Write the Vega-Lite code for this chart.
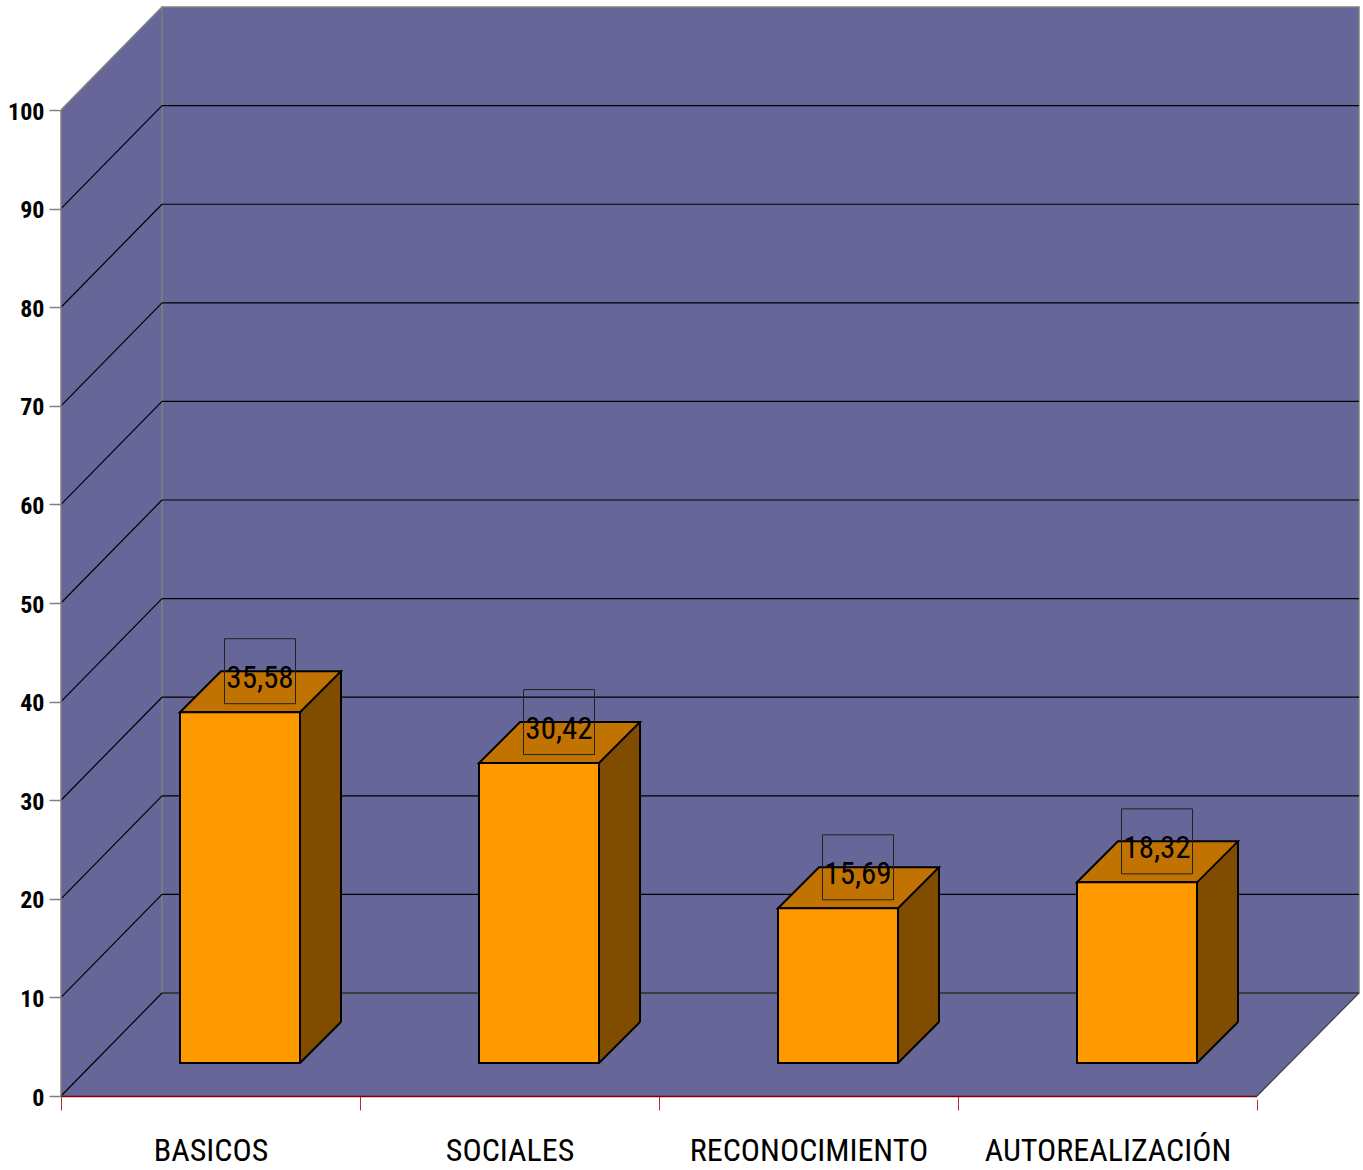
{
  "$schema": "https://vega.github.io/schema/vega-lite/v6.json",
  "width": 1298,
  "height": 1089,
  "autosize": {"type": "none"},
  "padding": {"left": 61, "top": 7, "right": 4, "bottom": 74},
  "background": "#ffffff",
  "config": {"view": {"fill": "#666699", "stroke": null}, "axis": {"zindex": 1, "grid": false}},
  "datasets": {
    "bars": [
      {"cat": "BASICOS", "value": 35.58, "label": "35,58"},
      {"cat": "SOCIALES", "value": 30.42, "label": "30,42"},
      {"cat": "RECONOCIMIENTO", "value": 15.69, "label": "15,69"},
      {"cat": "AUTOREALIZACIÓN", "value": 18.32, "label": "18,32"}
    ],
    "grid": [{"v": 0}, {"v": 10}, {"v": 20}, {"v": 30}, {"v": 40}, {"v": 50}, {"v": 60}, {"v": 70}, {"v": 80}, {"v": 90}],
    "one": [{"k": 1}]
  },
  "data": {"name": "bars"},
  "layer": [
    {
      "mark": {"type": "bar", "width": 120, "xOffset": 29.5, "yOffset": -33, "y2Offset": -33, "fill": "#FF9900", "stroke": "#000000", "strokeWidth": 2, "opacity": 0},
      "encoding": {
        "x": {
          "field": "cat", "type": "nominal", "sort": null, "title": null,
          "scale": {"domain": ["BASICOS", "SOCIALES", "RECONOCIMIENTO", "AUTOREALIZACIÓN"], "range": [0, 1196], "paddingInner": 0, "paddingOuter": 0},
          "axis": {"orient": "bottom", "tickBand": "extent", "domain": true, "domainColor": "#800000", "domainWidth": 1.5, "ticks": true, "tickColor": "#B03030", "tickWidth": 1, "tickSize": 14, "labelAngle": 0, "labelLimit": 0, "labelFont": "Roboto Condensed, Liberation Sans Narrow, DejaVu Sans Condensed, sans-serif", "labelFontSize": 32, "labelColor": "#000000", "labelBaseline": "alphabetic", "labelPadding": 50, "grid": false, "title": null}
        },
        "y": {
          "field": "value", "type": "quantitative", "title": null,
          "scale": {"domain": [0, 110.45], "nice": false, "zero": false},
          "axis": {"values": [0, 10, 20, 30, 40, 50, 60, 70, 80, 90, 100], "domain": false, "grid": false, "ticks": true, "tickColor": "#808080", "tickWidth": 1.5, "tickSize": 12, "labelFont": "Roboto Condensed, Liberation Sans Narrow, DejaVu Sans Condensed, sans-serif", "labelFontSize": 24, "labelFontWeight": "bold", "labelColor": "#000000", "labelPadding": 5, "labelOffset": 2, "title": null}
        },
        "y2": {"datum": 0}
      }
    },
    {
      "data": {"name": "one"},
      "mark": {"type": "point", "shape": "M0,0L101,-103L104,-106L-3,-106L-3,0Z", "size": 4, "filled": true, "fill": "#ffffff", "strokeWidth": 0, "opacity": 1},
      "encoding": {
        "x": {"datum": "BASICOS", "bandPosition": 0, "title": null},
        "y": {"datum": 100, "title": null}
      }
    },
    {
      "data": {"name": "one"},
      "mark": {"type": "point", "shape": "M0,0L102,-103L106,-103L106,4L0,4Z", "size": 4, "filled": true, "fill": "#ffffff", "strokeWidth": 0, "opacity": 1},
      "encoding": {
        "x": {"datum": "AUTOREALIZACIÓN", "bandPosition": 1, "title": null},
        "y": {"datum": 0, "title": null}
      }
    },
    {
      "data": {"name": "one"},
      "mark": {"type": "rect", "xOffset": 101, "x2Offset": 102, "yOffset": -103, "y2Offset": -103, "fill": "transparent", "stroke": "#808080", "strokeWidth": 1.5, "opacity": 1},
      "encoding": {
        "x": {"datum": "BASICOS", "bandPosition": 0, "title": null},
        "x2": {"datum": "AUTOREALIZACIÓN", "bandPosition": 1},
        "y": {"datum": 0, "title": null},
        "y2": {"datum": 100}
      }
    },
    {
      "data": {"name": "grid"},
      "mark": {"type": "rule", "xOffset": 101, "x2Offset": 102, "yOffset": -103, "stroke": "#000000", "strokeWidth": 1.2},
      "encoding": {
        "x": {"datum": "BASICOS", "bandPosition": 0, "title": null},
        "x2": {"datum": "AUTOREALIZACIÓN", "bandPosition": 1},
        "y": {"field": "v", "type": "quantitative", "title": null}
      }
    },
    {
      "data": {"name": "grid"},
      "mark": {"type": "rule", "x2Offset": 101, "y2Offset": -103, "stroke": "#000000", "strokeWidth": 1.2},
      "encoding": {
        "x": {"datum": "BASICOS", "bandPosition": 0, "title": null},
        "x2": {"datum": "BASICOS", "bandPosition": 0},
        "y": {"field": "v", "type": "quantitative", "title": null},
        "y2": {"field": "v"}
      }
    },
    {
      "data": {"name": "one"},
      "mark": {"type": "rule", "stroke": "#808080", "strokeWidth": 1.5},
      "encoding": {
        "x": {"datum": "BASICOS", "bandPosition": 0, "title": null},
        "y": {"datum": 0, "title": null},
        "y2": {"datum": 100}
      }
    },
    {
      "data": {"name": "one"},
      "mark": {"type": "rule", "x2Offset": 101, "y2Offset": -103, "stroke": "#808080", "strokeWidth": 1.5},
      "encoding": {
        "x": {"datum": "BASICOS", "bandPosition": 0, "title": null},
        "x2": {"datum": "BASICOS", "bandPosition": 0},
        "y": {"datum": 100, "title": null},
        "y2": {"datum": 100}
      }
    },
    {
      "data": {"name": "one"},
      "mark": {"type": "rule", "x2Offset": 102, "y2Offset": -103, "stroke": "#404040", "strokeWidth": 1.2},
      "encoding": {
        "x": {"datum": "AUTOREALIZACIÓN", "bandPosition": 1, "title": null},
        "x2": {"datum": "AUTOREALIZACIÓN", "bandPosition": 1},
        "y": {"datum": 0, "title": null},
        "y2": {"datum": 0}
      }
    },
    {
      "mark": {"type": "bar", "width": 41, "xOffset": 110, "yOffset": -33, "y2Offset": -74, "fill": "#7F4C00", "strokeWidth": 0, "opacity": 1},
      "encoding": {
        "x": {"field": "cat", "type": "nominal", "sort": null, "title": null},
        "y": {"field": "value", "type": "quantitative", "title": null},
        "y2": {"datum": 0}
      }
    },
    {
      "mark": {"type": "point", "shape": "M0,0L41,-41L41,1L0,1Z", "size": 4, "filled": true, "fill": "#7F4C00", "strokeWidth": 0, "opacity": 1, "xOffset": 89.5, "yOffset": -33},
      "encoding": {
        "x": {"field": "cat", "type": "nominal", "sort": null, "bandPosition": 0.5, "title": null},
        "y": {"field": "value", "type": "quantitative", "title": null}
      }
    },
    {
      "mark": {"type": "point", "shape": "M0,0L0,-42L41,-42L41,-41Z", "size": 4, "filled": true, "fill": "#7F4C00", "strokeWidth": 0, "opacity": 1, "xOffset": 89.5, "yOffset": -33},
      "encoding": {
        "x": {"field": "cat", "type": "nominal", "sort": null, "bandPosition": 0.5, "title": null},
        "y": {"datum": 0, "title": null}
      }
    },
    {
      "mark": {"type": "point", "shape": "M0,0L41,-41", "size": 4, "filled": false, "stroke": "#000000", "strokeWidth": 2, "opacity": 1, "xOffset": 89.5, "yOffset": -33},
      "encoding": {
        "x": {"field": "cat", "type": "nominal", "sort": null, "bandPosition": 0.5, "title": null},
        "y": {"datum": 0, "title": null}
      }
    },
    {
      "mark": {"type": "rule", "stroke": "#000000", "strokeWidth": 2, "xOffset": 130.5, "yOffset": -74, "y2Offset": -74},
      "encoding": {
        "x": {"field": "cat", "type": "nominal", "sort": null, "bandPosition": 0.5, "title": null},
        "y": {"field": "value", "type": "quantitative", "title": null},
        "y2": {"datum": 0}
      }
    },
    {
      "mark": {"type": "point", "shape": "M-120,0L0,0L41,-41L-79,-41Z", "size": 4, "filled": true, "fill": "#C07300", "stroke": "#000000", "strokeWidth": 2, "opacity": 1, "xOffset": 89.5, "yOffset": -33},
      "encoding": {
        "x": {"field": "cat", "type": "nominal", "sort": null, "bandPosition": 0.5, "title": null},
        "y": {"field": "value", "type": "quantitative", "title": null}
      }
    },
    {
      "mark": {"type": "bar", "width": 120, "xOffset": 29.5, "yOffset": -33, "y2Offset": -33, "fill": "#FF9900", "stroke": "#000000", "strokeWidth": 2, "opacity": 1},
      "encoding": {
        "x": {"field": "cat", "type": "nominal", "sort": null, "title": null},
        "y": {"field": "value", "type": "quantitative", "title": null},
        "y2": {"datum": 0}
      }
    },
    {
      "mark": {"type": "point", "shape": "M-35.5,-32.5L35.5,-32.5L35.5,32.5L-35.5,32.5Z", "size": 4, "filled": false, "stroke": "#222222", "strokeWidth": 1, "opacity": 1, "xOffset": 49.5, "yOffset": -74},
      "encoding": {
        "x": {"field": "cat", "type": "nominal", "sort": null, "bandPosition": 0.5, "title": null},
        "y": {"field": "value", "type": "quantitative", "title": null}
      }
    },
    {
      "mark": {"type": "text", "align": "center", "baseline": "alphabetic", "font": "Roboto Condensed, Liberation Sans Narrow, DejaVu Sans Condensed, sans-serif", "fontSize": 31, "fill": "#000000", "xOffset": 49.5, "yOffset": -57},
      "encoding": {
        "x": {"field": "cat", "type": "nominal", "sort": null, "bandPosition": 0.5, "title": null},
        "y": {"field": "value", "type": "quantitative", "title": null},
        "text": {"field": "label"}
      }
    }
  ]
}
